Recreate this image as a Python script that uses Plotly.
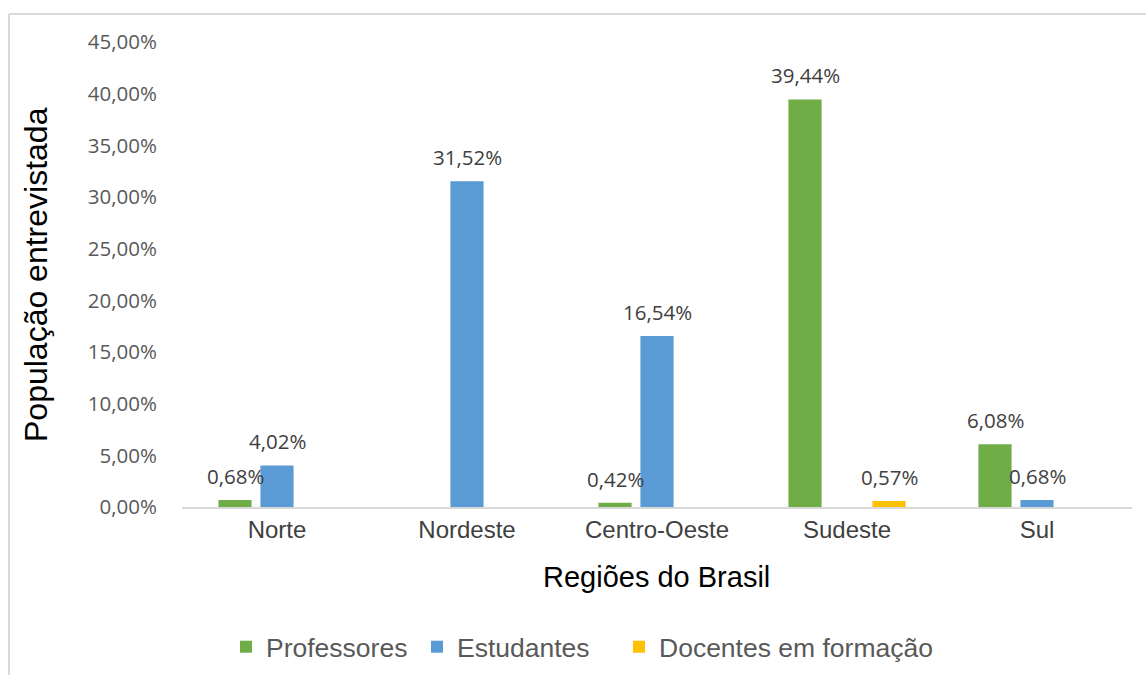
import plotly.graph_objects as go

regioes = ["Norte", "Nordeste", "Centro-Oeste", "Sudeste", "Sul"]
professores = [0.0068, 0.0, 0.0042, 0.3944, 0.0608]
estudantes = [0.0402, 0.3152, 0.1654, 0.0, 0.0068]
docentes = [0.0, 0.0, 0.0, 0.0057, 0.0]

series = [
    ("Professores", professores, "#70AD47", "legend"),
    ("Estudantes", estudantes, "#5B9BD5", "legend"),
    ("Docentes em formação", docentes, "#FFC000", "legend2"),
]

W, H = 1146, 675
L, R, T, B = 182, 14, 42, 168
pw, ph = W - L - R, H - T - B

def px_x(x):
    return (x - L) / pw

def px_y(y):
    return (H - B - y) / ph

fig = go.Figure()
for name, vals, col, lg in series:
    fig.add_trace(go.Bar(x=regioes, y=vals, name=name, legend=lg,
                         marker=dict(color=col, line=dict(width=0))))

ann = []
shifts = [-42, 0, 42]
for (name, vals, col, lg), xs in zip(series, shifts):
    for cat, v in zip(regioes, vals):
        if v > 0:
            ann.append(dict(x=cat, y=v, xref="x", yref="y", text=f"{v*100:.2f}%".replace(".", ","),
                            showarrow=False, xshift=xs, yshift=24, yanchor="middle",
                            font=dict(family="Open Sans", size=20.5, color="#404040")))

ann.append(dict(x=px_x(36), y=px_y(275), xref="paper", yref="paper", text="População entrevistada",
                textangle=-90, showarrow=False, xanchor="center", yanchor="middle",
                font=dict(family="Liberation Sans, Arial", size=32, color="#000000")))
ann.append(dict(x=px_x(656), y=px_y(577), xref="paper", yref="paper", text="Regiões do Brasil",
                showarrow=False, xanchor="center", yanchor="middle",
                font=dict(family="Liberation Sans, Arial", size=29, color="#000000")))

shapes = [
    dict(type="line", xref="paper", yref="paper", x0=px_x(9), x1=px_x(W + 5), y0=px_y(14), y1=px_y(14),
         line=dict(color="#D9D9D9", width=2)),
    dict(type="line", xref="paper", yref="paper", x0=px_x(9), x1=px_x(9), y0=px_y(14), y1=px_y(H + 5),
         line=dict(color="#D9D9D9", width=2)),
]

legend_font = dict(family="Liberation Sans, Arial", size=26.5, color="#595959")

fig.update_layout(
    width=W, height=H,
    margin=dict(l=L, r=R, t=T, b=B, pad=0, autoexpand=False),
    paper_bgcolor="white", plot_bgcolor="white",
    separators=",.",
    barmode="group", bargap=0.337, bargroupgap=0.21,
    annotations=ann, shapes=shapes,
    showlegend=True,
    legend=dict(orientation="h", x=px_x(226), y=px_y(647), xanchor="left", yanchor="middle",
                entrywidth=146, entrywidthmode="pixels",
                font=legend_font, bgcolor="rgba(0,0,0,0)"),
    legend2=dict(orientation="h", x=px_x(619), y=px_y(647), xanchor="left", yanchor="middle",
                 font=legend_font, bgcolor="rgba(0,0,0,0)"),
    xaxis=dict(showline=True, linecolor="#D9D9D9", linewidth=2, ticks="", showgrid=False,
               automargin=False,
               tickfont=dict(family="Liberation Sans, Arial", size=24, color="#404040")),
    yaxis=dict(range=[0, 0.45], dtick=0.05, tickformat=".2%", showgrid=False, zeroline=False,
               showline=False, ticks="", ticklabelstandoff=24, automargin=False,
               tickfont=dict(family="Open Sans", size=20.5, color="#595959")),
)

fig.write_html("out.html")
